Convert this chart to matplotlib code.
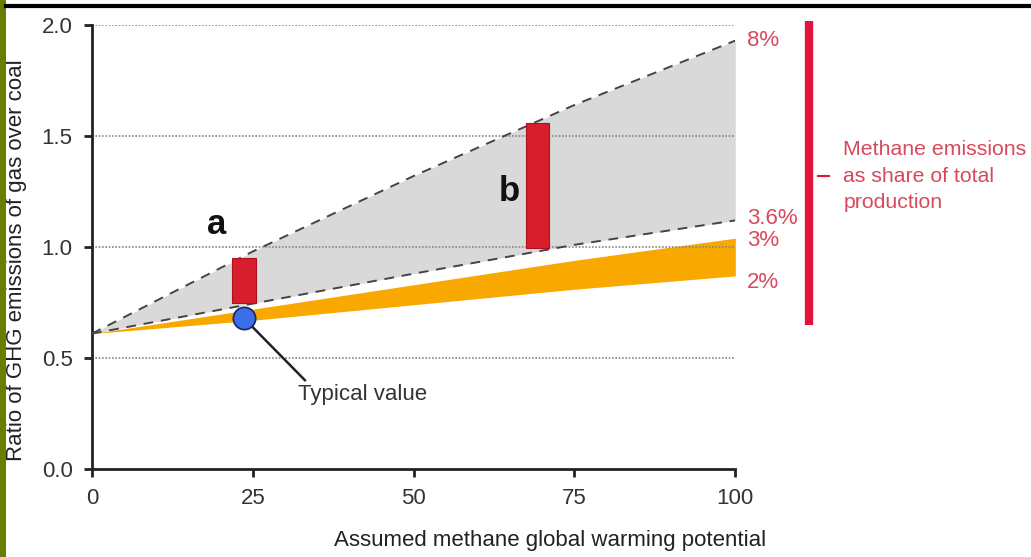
import numpy as np
import matplotlib
matplotlib.use('Agg')
import matplotlib.pyplot as plt
from matplotlib.patches import Rectangle

plt.rcParams['font.family'] = ['Liberation Sans', 'DejaVu Sans']

# assumed methane GWP
gwp = [0, 25, 50, 75, 100]
# ratio of GHG emissions gas/coal for each leakage rate
leak_8 = [0.61, 0.98, 1.32, 1.64, 1.93]
leak_36 = [0.61, 0.745, 0.88, 1.01, 1.12]
leak_3 = [0.61, 0.72, 0.83, 0.94, 1.04]
leak_2 = [0.61, 0.67, 0.74, 0.81, 0.87]

share_labels = ['8%', '3.6%', '3%', '2%']
share_label_y = [1.93, 1.13, 1.03, 0.84]

# study ranges (x from, x to, low, high)
bar_names = ['a', 'b']
bar_x0 = [21.8, 67.4]
bar_x1 = [25.5, 71.1]
bar_lo = [0.75, 0.995]
bar_hi = [0.95, 1.56]
bar_label_y = [1.10, 1.25]

typical_x = 23.6
typical_y = 0.68

fig = plt.figure(figsize=(10.31, 5.57), dpi=100)
ax = fig.add_axes([0.0892, 0.158, 0.624, 0.797])

ax.fill_between(gwp, leak_36, leak_8, color='#d9d9d9', lw=0, zorder=1)
ax.fill_between(gwp, leak_2, leak_3, color='#f9a800', lw=0, zorder=1)
ax.plot(gwp, leak_8, ls=(0, (5, 4)), color='#444444', lw=1.4, zorder=3)
ax.plot(gwp, leak_36, ls=(0, (5, 4)), color='#444444', lw=1.4, zorder=3)

for yv in [0.5, 1.0, 1.5, 2.0]:
    ax.plot([0, 100], [yv, yv], ls=(0, (1, 1.0)), color='#888888', lw=1.2, zorder=2)

for name, x0, x1, lo, hi, ly in zip(bar_names, bar_x0, bar_x1, bar_lo, bar_hi, bar_label_y):
    ax.add_patch(Rectangle((x0, lo), x1 - x0, hi - lo, facecolor='#d81e2c',
                           edgecolor='#b0101c', lw=0.8, zorder=4))
    ax.text(x0 - 0.9, ly, name, fontsize=25, fontweight='bold', ha='right',
            va='center', color='#111111', zorder=5)

ax.plot([typical_x, 33.1], [typical_y, 0.40], color='#222222', lw=1.8, zorder=5)
ax.plot([typical_x], [typical_y], 'o', ms=16, mfc='#3a6fe8', mec='#1a2a6a', mew=1.3, zorder=6)
ax.text(42, 0.335, 'Typical value', fontsize=16, color='#333333', ha='center', va='center')

for lab, yv in zip(share_labels, share_label_y):
    ax.text(101.8, yv, lab, fontsize=16, color='#d9485c', ha='left', va='center', clip_on=False)

# bracket
ax.plot([111.4, 111.4], [0.65, 2.02], color='#e0143c', lw=6, solid_capstyle='butt', clip_on=False)
ax.plot([112.8, 114.6], [1.32, 1.32], color='#e0143c', lw=1.5, clip_on=False)
ax.text(116.8, 1.32, 'Methane emissions\nas share of total\nproduction', fontsize=15.3,
        color='#d9485c', ha='left', va='center', linespacing=1.5, clip_on=False)

ax.set_xlim(0, 100)
ax.set_ylim(0, 2.0)
ax.set_xticks([0, 25, 50, 75, 100])
ax.set_yticks([0.0, 0.5, 1.0, 1.5, 2.0])
ax.set_yticklabels(['0.0', '0.5', '1.0', '1.5', '2.0'])
ax.spines['top'].set_visible(False)
ax.spines['right'].set_visible(False)
for s in ['left', 'bottom']:
    ax.spines[s].set_linewidth(2)
    ax.spines[s].set_color('#222222')
ax.tick_params(direction='out', length=6, width=2, color='#222222',
               labelsize=16, labelcolor='#333333', pad=8)
ax.set_xlabel('Assumed methane global warming potential', fontsize=16, color='#222222')
ax.set_ylabel('Ratio of GHG emissions of gas over coal', fontsize=16, color='#222222')
ax.xaxis.set_label_coords(0.712, -0.137)
ax.yaxis.set_label_coords(-0.101, 0.47)

# frame decorations
fig.patches.append(Rectangle((0, 0), 6 / 1031, 1, transform=fig.transFigure,
                             facecolor='#6b7d00', edgecolor='none'))
fig.add_artist(plt.Line2D([6 / 1031, 1], [1 - 6 / 557, 1 - 6 / 557],
                          transform=fig.transFigure, color='black', lw=3))

fig.savefig('out.png', dpi=100)
